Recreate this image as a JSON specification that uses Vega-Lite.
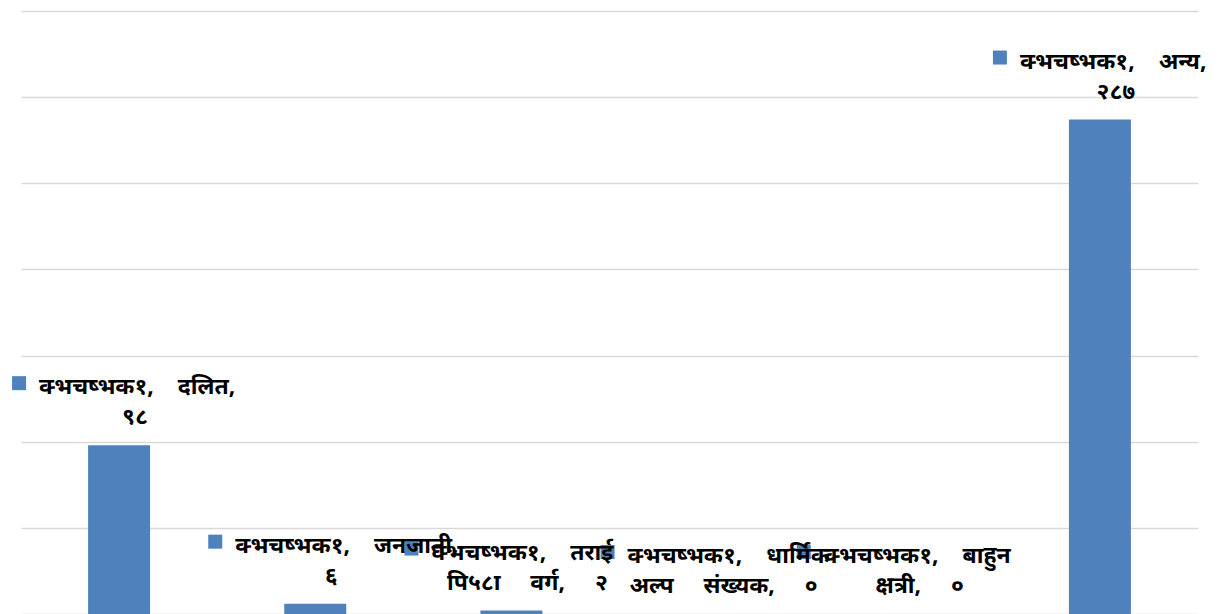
{
  "$schema": "https://vega.github.io/schema/vega-lite/v6.json",
  "autosize": {"type": "none"},
  "width": 1177,
  "height": 603,
  "padding": {"left": 21, "top": 11, "right": 24, "bottom": 0},
  "background": "white",
  "config": {"view": {"stroke": null}},
  "data": {
    "values": [
      {"category": "दलित", "value": 98, "line1": "क्भचष्भक१,\u00a0\u00a0\u00a0\u00a0दलित,", "line2": "९८"},
      {"category": "जनजाती", "value": 6, "line1": "क्भचष्भक१,\u00a0\u00a0\u00a0\u00a0जनजाती,", "line2": "६"},
      {"category": "तराई पिछडा वर्ग", "value": 2, "line1": "क्भचष्भक१,\u00a0\u00a0\u00a0\u00a0तराई", "line2": "पि५८ा\u00a0\u00a0\u00a0\u00a0\u00a0वर्ग,\u00a0\u00a0\u00a0\u00a0\u00a0२"},
      {"category": "धार्मिक अल्प संख्यक", "value": 0, "line1": "क्भचष्भक१,\u00a0\u00a0\u00a0\u00a0धार्मिक", "line2": "अल्प\u00a0\u00a0\u00a0\u00a0\u00a0संख्यक,\u00a0\u00a0\u00a0\u00a0\u00a0०"},
      {"category": "बाहुन क्षत्री", "value": 0, "line1": "क्भचष्भक१,\u00a0\u00a0\u00a0\u00a0बाहुन", "line2": "क्षत्री,\u00a0\u00a0\u00a0\u00a0\u00a0०"},
      {"category": "अन्य", "value": 287, "line1": "क्भचष्भक१,\u00a0\u00a0\u00a0\u00a0अन्य,", "line2": "२८७"}
    ]
  },
  "encoding": {
    "x": {
      "field": "category", "type": "nominal", "sort": null,
      "scale": {"paddingInner": 0.684, "paddingOuter": 0.342},
      "axis": null
    },
    "y": {
      "field": "value", "type": "quantitative",
      "scale": {"domain": [0, 350], "nice": false},
      "axis": {
        "values": [0, 50, 100, 150, 200, 250, 300, 350],
        "labels": false, "ticks": false, "domain": false, "title": null,
        "grid": true, "gridColor": "#d9d9d9", "gridWidth": 1.3
      }
    }
  },
  "layer": [
    {"mark": {"type": "bar", "color": "#4f81bd"}},
    {
      "mark": {"type": "point", "shape": "square", "filled": true, "opacity": 1, "color": "#4f81bd", "size": 196, "xOffset": -100, "yOffset": -62}
    },
    {
      "mark": {"type": "text", "align": "left", "baseline": "alphabetic", "dx": -80, "dy": -51, "fontSize": 23, "fontWeight": "bold", "font": "Noto Sans", "color": "black"},
      "encoding": {"text": {"field": "line1"}}
    },
    {
      "mark": {"type": "text", "align": "center", "baseline": "alphabetic", "dx": 16, "dy": -21, "fontSize": 23, "fontWeight": "bold", "font": "Noto Sans", "color": "black"},
      "encoding": {"text": {"field": "line2"}}
    }
  ]
}
